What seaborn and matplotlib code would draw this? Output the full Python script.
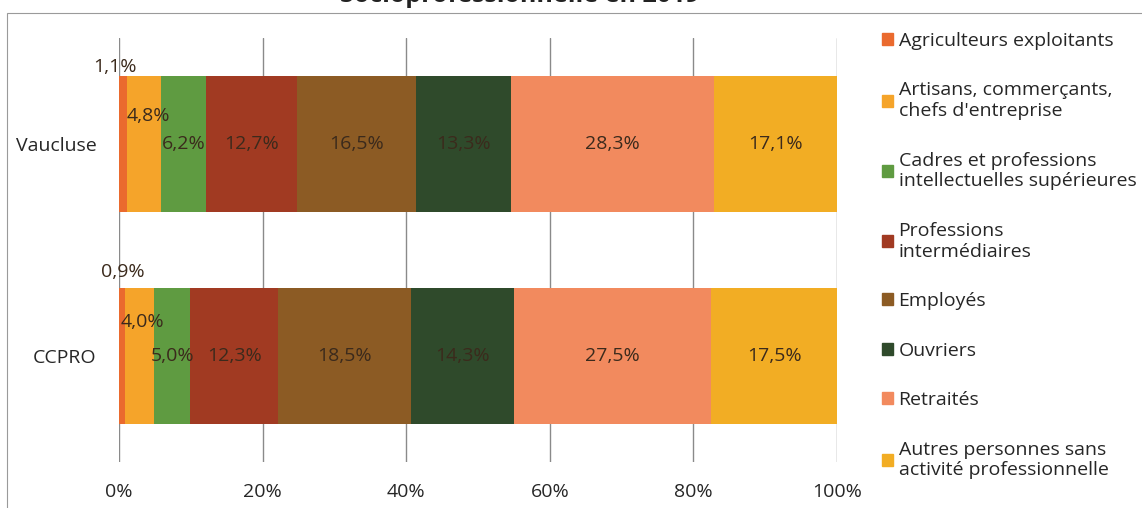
import matplotlib.pyplot as plt
import matplotlib.patches as mpatches
import numpy as np
import pandas as pd
import seaborn as sns

zones = ['Vaucluse', 'CCPRO']
categories = ['Agriculteurs exploitants',
              'Artisans, commerçants,\nchefs d\'entreprise',
              'Cadres et professions\nintellectuelles supérieures',
              'Professions\nintermédiaires',
              'Employés',
              'Ouvriers',
              'Retraités',
              'Autres personnes sans\nactivité professionnelle']
vaucluse = [1.1, 4.8, 6.2, 12.7, 16.5, 13.3, 28.3, 17.1]
ccpro = [0.9, 4.0, 5.0, 12.3, 18.5, 14.3, 27.5, 17.5]
xticks = [0, 20, 40, 60, 80, 100]

colors = ['#ea6a2e', '#f5a42a', '#5f9b41', '#a13a22', '#8c5b24',
          '#2f4a2b', '#f28a5e', '#f2ad24']

df = pd.DataFrame({'Vaucluse': vaucluse, 'CCPRO': ccpro}, index=categories)
cum = df.cumsum()

sns.set_theme(style='white')
plt.rcParams['font.family'] = ['Open Sans', 'DejaVu Sans']

fig = plt.figure(figsize=(11.42, 5.08), dpi=100)
ax = fig.add_axes([0.1042, 0.0906, 0.6288, 0.834])

# stacked bars: draw cumulative totals from the back
for i in reversed(range(len(categories))):
    sns.barplot(x=cum.iloc[i].values, y=zones, color=colors[i], saturation=1,
                width=0.64, orient='h', ax=ax, linewidth=0)

# value labels (pixel offsets for the thin segments)
offsets = {(0, 0): (-8, 77), (0, 1): (4, 28), (1, 0): (1, 84), (1, 1): (3, 34)}
for j, zone in enumerate(zones):
    start = 0
    for i, cat in enumerate(categories):
        v = df.loc[cat, zone]
        dx, dy = offsets.get((j, i), (0, 0))
        ax.annotate(f'{v:.1f}%'.replace('.', ','), (start + v / 2, j),
                    xytext=(dx, dy), textcoords='offset pixels',
                    ha='center', va='center', fontsize=14, color='#3b2a1c')
        start += v

ax.set_xlim(0, 100)
ax.set_ylim(1.5, -0.5)
ax.set_xticks(xticks)
ax.set_xticklabels([f'{t}%' for t in xticks], fontsize=14)
ax.tick_params(axis='x', pad=15, length=0)
ax.tick_params(axis='y', pad=16, length=0, labelsize=14)
ax.set_xlabel('')
ax.set_ylabel('')
ax.xaxis.grid(True, color='#8a8a8a', linewidth=1)
ax.set_axisbelow(True)
for s in ax.spines.values():
    s.set_visible(False)

handles = [mpatches.Patch(color=c) for c in colors]
fig.legend(handles, categories, loc='upper left', bbox_to_anchor=(0.757, 0.972),
           frameon=False, fontsize=14, handlelength=0.55, handleheight=0.55,
           handletextpad=0.3, labelspacing=1.62)

# outer chart frame and clipped title
fig.patches.append(mpatches.Rectangle((0.006, -0.01), 1.0, 0.985, transform=fig.transFigure,
                                      fill=False, edgecolor='#9a9a9a', linewidth=0.8))
fig.text(0.455, 1.008, 'Socioprofessionnelle en 2019', ha='center', va='center',
         fontsize=18, fontweight='bold', color='#222222')

fig.savefig('out.png', dpi=100)
